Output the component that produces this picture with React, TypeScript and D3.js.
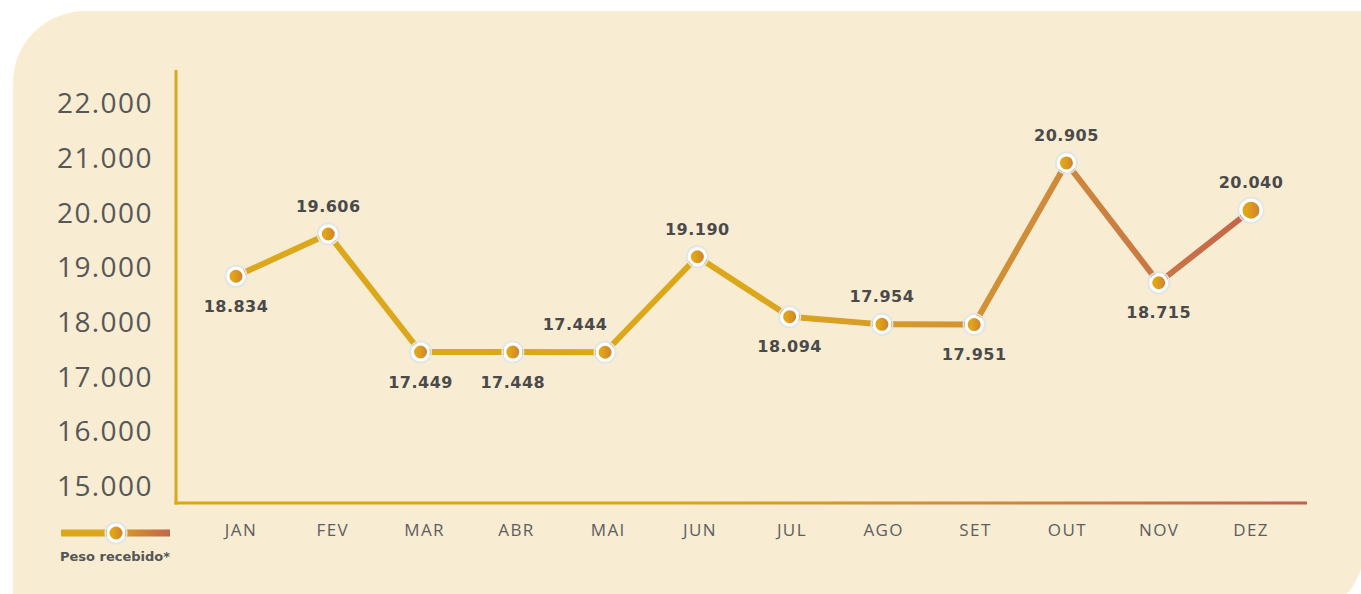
import React from "react";
import * as d3 from "d3";

// monthly received weight
const months = ["JAN", "FEV", "MAR", "ABR", "MAI", "JUN", "JUL", "AGO", "SET", "OUT", "NOV", "DEZ"];
const peso = [18834, 19606, 17449, 17448, 17444, 19190, 18094, 17954, 17951, 20905, 18715, 20040];
const labelSide = ["below", "above", "below", "below", "aboveLeft", "above", "below", "above", "below", "above", "below", "above"];
const yTicks = [15000, 16000, 17000, 18000, 19000, 20000, 21000, 22000];
const legendLabel = "Peso recebido*";

const W = 1361;
const H = 594;

const fmt = (v: number) => d3.format(",")(v).replace(/,/g, ".");

export default function App() {
  const x = d3.scalePoint<string>().domain(months).range([236, 1251]);
  const xLab = d3.scalePoint<string>().domain(months).range([241, 1251]);
  const y = d3.scaleLinear().domain([15000, 22000]).range([486, 103]);

  const line = d3
    .line<number>()
    .x((_, i) => x(months[i]) as number)
    .y((d) => y(d));

  const axisY = 503;
  const axisX = 176;

  return (
    <svg width={W} height={H} style={{ position: "absolute", left: 0, top: 0 }}>
      <defs>
        <linearGradient id="lineGrad" gradientUnits="userSpaceOnUse" x1={760} x2={1251} y1={0} y2={0}>
          <stop offset="0" stopColor="#dba71b" />
          <stop offset="0.6" stopColor="#cf8a3c" />
          <stop offset="1" stopColor="#c4644b" />
        </linearGradient>
        <linearGradient id="axisGrad" gradientUnits="userSpaceOnUse" x1={650} x2={1307} y1={0} y2={0}>
          <stop offset="0" stopColor="#dba71b" />
          <stop offset="0.5" stopColor="#d08a38" />
          <stop offset="1" stopColor="#c2614d" />
        </linearGradient>
        <linearGradient id="legGrad" gradientUnits="userSpaceOnUse" x1={110} x2={170} y1={0} y2={0}>
          <stop offset="0" stopColor="#dba71b" />
          <stop offset="1" stopColor="#c2644d" />
        </linearGradient>
        <linearGradient id="dotGrad" x1="0" x2="1" y1="0" y2="0">
          <stop offset="0.3" stopColor="#e0a616" />
          <stop offset="1" stopColor="#cd7c37" />
        </linearGradient>
      </defs>

      <path d="M13,83 A72,72 0 0 1 85,11 H1365 V545 A75,75 0 0 1 1290,620 H13 Z" fill="#f8ecd2" />

      {/* axes */}
      <line x1={axisX} x2={axisX} y1={70} y2={axisY + 1.5} stroke="#dba71b" strokeWidth={3} />
      <line x1={axisX - 1.5} x2={1307} y1={axisY} y2={axisY} stroke="url(#axisGrad)" strokeWidth={3} />

      {yTicks.map((t) => (
        <text
          key={t}
          x={57}
          y={y(t)}
          dy="0.36em"
          fontFamily="'Open Sans', sans-serif"
          fontWeight={400}
          fontSize={28}
          letterSpacing={1.4}
          fill="#575757"
        >
          {fmt(t)}
        </text>
      ))}

      {months.map((m) => (
        <text
          key={m}
          x={xLab(m)}
          y={530}
          dy="0.36em"
          textAnchor="middle"
          fontFamily="'Open Sans', sans-serif"
          fontSize={17}
          letterSpacing={1.4}
          fill="#5e5e5e"
        >
          {m}
        </text>
      ))}

      <path d={line(peso) || ""} fill="none" stroke="url(#lineGrad)" strokeWidth={6} strokeLinejoin="round" />

      {peso.map((v, i) => {
        const cx = x(months[i]) as number;
        const cy = y(v);
        const r = i === peso.length - 1 ? 10 : 8;
        return (
          <g key={months[i]}>
            <circle cx={cx} cy={cy} r={r + 2.8} fill="none" stroke="#dfe5e8" strokeWidth={1.5} />
            <circle cx={cx} cy={cy} r={r} fill="url(#dotGrad)" stroke="#fff" strokeWidth={3} />
          </g>
        );
      })}

      {peso.map((v, i) => {
        const side = labelSide[i];
        const cx = (x(months[i]) as number) + (side === "aboveLeft" ? -30 : 0);
        const cy = y(v) + (side === "below" ? 30 : -28);
        return (
          <text
            key={"l" + i}
            x={cx}
            y={cy}
            dy="0.36em"
            textAnchor="middle"
            fontFamily="'DejaVu Sans', sans-serif"
            fontWeight={700}
            fontSize={16}
            letterSpacing={0.5}
            fill="#4a4a4a"
          >
            {fmt(v)}
          </text>
        );
      })}

      {/* legend */}
      <line x1={61} x2={110} y1={533} y2={533} stroke="#dba71b" strokeWidth={7} />
      <line x1={110} x2={170} y1={533} y2={533} stroke="url(#legGrad)" strokeWidth={7} />
      <circle cx={116} cy={533} r={10.8} fill="none" stroke="#dfe5e8" strokeWidth={1.5} />
      <circle cx={116} cy={533} r={8} fill="url(#dotGrad)" stroke="#fff" strokeWidth={3} />
      <text
        x={60}
        y={556}
        dy="0.36em"
        fontFamily="'DejaVu Sans', sans-serif"
        fontWeight={700}
        fontSize={13}
        fill="#555"
      >
        {legendLabel}
      </text>
    </svg>
  );
}
